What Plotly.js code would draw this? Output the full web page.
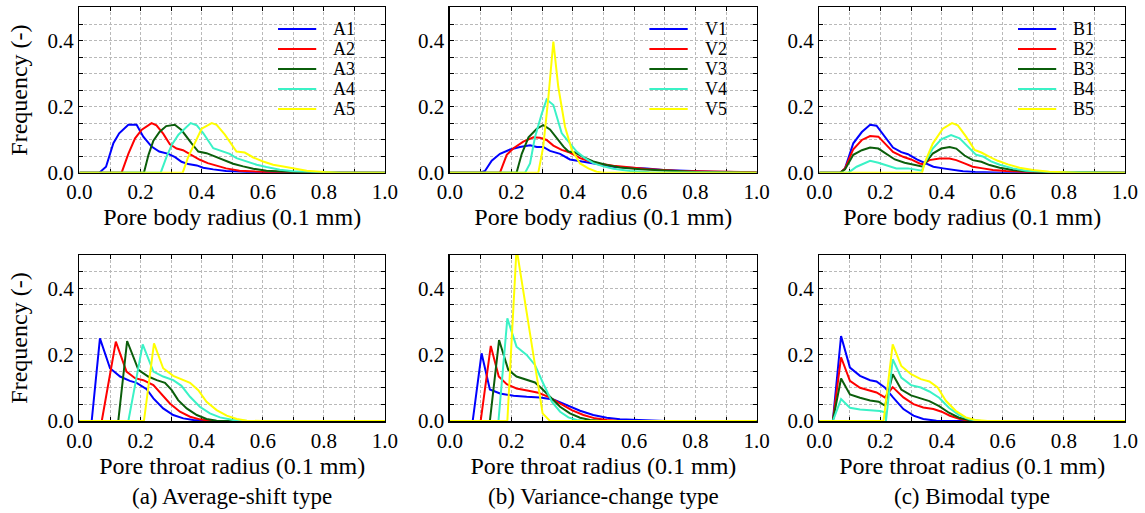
<!DOCTYPE html>
<html><head><meta charset="utf-8">
<script src="https://cdn.plot.ly/plotly-3.0.1.min.js"></script>
<style>html,body{margin:0;padding:0;background:#fff;}#chart{width:1145px;height:513px;}</style>
</head><body><div id="chart"></div>
<script>
// ---------- Pore body radius (top row) ----------
const A1_body_x = [0, 0.065, 0.087, 0.111, 0.130, 0.160, 0.187, 0.209, 0.236, 0.261, 0.291, 0.313, 0.334, 0.356, 0.384, 0.405, 0.438, 0.48, 0.55, 0.6, 1];
const A1_body_y = [0, 0, 0.018, 0.089, 0.119, 0.145, 0.145, 0.109, 0.079, 0.064, 0.057, 0.047, 0.033, 0.026, 0.022, 0.015, 0.010, 0.005, 0.002, 0, 0];
const A2_body_x = [0, 0.138, 0.160, 0.182, 0.204, 0.236, 0.252, 0.274, 0.296, 0.318, 0.339, 0.367, 0.394, 0.42, 0.449, 0.48, 0.524, 0.6, 0.65, 1];
const A2_body_y = [0, 0, 0.057, 0.104, 0.130, 0.150, 0.143, 0.118, 0.086, 0.073, 0.068, 0.052, 0.039, 0.029, 0.021, 0.013, 0.006, 0.002, 0, 0];
const A3_body_x = [0, 0.211, 0.226, 0.242, 0.262, 0.284, 0.312, 0.334, 0.367, 0.389, 0.416, 0.443, 0.470, 0.503, 0.536, 0.569, 0.612, 0.7, 0.75, 1];
const A3_body_y = [0, 0, 0.054, 0.097, 0.123, 0.141, 0.145, 0.129, 0.089, 0.064, 0.059, 0.049, 0.037, 0.027, 0.019, 0.012, 0.006, 0.002, 0, 0];
const A4_body_x = [0, 0.266, 0.285, 0.302, 0.324, 0.346, 0.364, 0.384, 0.405, 0.438, 0.465, 0.492, 0.514, 0.547, 0.58, 0.612, 0.656, 0.7, 0.8, 0.85, 1];
const A4_body_y = [0, 0, 0.048, 0.084, 0.115, 0.134, 0.150, 0.143, 0.120, 0.074, 0.066, 0.057, 0.044, 0.034, 0.024, 0.017, 0.009, 0.004, 0.001, 0, 0];
const A5_body_x = [0, 0.338, 0.356, 0.378, 0.40, 0.433, 0.449, 0.476, 0.503, 0.514, 0.541, 0.569, 0.601, 0.634, 0.667, 0.70, 0.744, 0.8, 0.85, 1];
const A5_body_y = [0, 0, 0.048, 0.093, 0.133, 0.150, 0.145, 0.115, 0.079, 0.064, 0.061, 0.046, 0.034, 0.024, 0.019, 0.014, 0.006, 0.002, 0, 0];

const V1_body_x = [0, 0.098, 0.114, 0.136, 0.163, 0.196, 0.228, 0.261, 0.283, 0.304, 0.326, 0.359, 0.391, 0.424, 0.457, 0.489, 0.533, 0.587, 0.641, 0.696, 0.75, 0.859, 1];
const V1_body_y = [0, 0, 0.005, 0.036, 0.057, 0.070, 0.078, 0.083, 0.078, 0.078, 0.066, 0.057, 0.040, 0.035, 0.028, 0.023, 0.018, 0.015, 0.013, 0.008, 0.006, 0.003, 0.001];
const V2_body_x = [0, 0.163, 0.185, 0.207, 0.239, 0.272, 0.293, 0.315, 0.337, 0.364, 0.391, 0.424, 0.457, 0.489, 0.533, 0.587, 0.641, 0.696, 0.75, 1];
const V2_body_y = [0, 0, 0.054, 0.074, 0.094, 0.107, 0.106, 0.099, 0.082, 0.069, 0.061, 0.044, 0.034, 0.027, 0.021, 0.015, 0.011, 0.008, 0.005, 0.001];
const V3_body_x = [0, 0.217, 0.234, 0.256, 0.283, 0.304, 0.326, 0.348, 0.37, 0.386, 0.408, 0.435, 0.467, 0.511, 0.554, 0.62, 0.696, 0.8, 1];
const V3_body_y = [0, 0, 0.057, 0.107, 0.133, 0.144, 0.131, 0.104, 0.079, 0.064, 0.061, 0.047, 0.034, 0.023, 0.016, 0.010, 0.006, 0.002, 0];
const V4_body_x = [0, 0.245, 0.261, 0.277, 0.299, 0.315, 0.337, 0.364, 0.391, 0.413, 0.44, 0.467, 0.5, 0.533, 0.587, 0.65, 1];
const V4_body_y = [0, 0, 0.028, 0.107, 0.178, 0.222, 0.205, 0.120, 0.089, 0.064, 0.044, 0.029, 0.019, 0.012, 0.005, 0.001, 0];
const V5_body_x = [0, 0.288, 0.304, 0.321, 0.337, 0.353, 0.375, 0.397, 0.424, 0.451, 0.478, 0.5, 1];
const V5_body_y = [0, 0, 0.079, 0.230, 0.397, 0.260, 0.139, 0.069, 0.028, 0.013, 0.003, 0, 0];

const B1_body_x = [0, 0.068, 0.084, 0.111, 0.139, 0.166, 0.187, 0.214, 0.241, 0.268, 0.29, 0.319, 0.346, 0.373, 0.405, 0.438, 0.47, 0.51, 0.6, 1];
const B1_body_y = [0, 0, 0.013, 0.089, 0.123, 0.145, 0.142, 0.109, 0.076, 0.062, 0.056, 0.040, 0.028, 0.018, 0.013, 0.008, 0.004, 0.002, 0, 0];
const B2_body_x = [0, 0.068, 0.084, 0.111, 0.139, 0.166, 0.193, 0.22, 0.241, 0.274, 0.30, 0.328, 0.339, 0.36, 0.393, 0.426, 0.448, 0.475, 0.502, 0.535, 0.568, 0.611, 0.7, 1];
const B2_body_y = [0, 0, 0.013, 0.071, 0.099, 0.111, 0.109, 0.083, 0.063, 0.048, 0.040, 0.028, 0.026, 0.038, 0.043, 0.043, 0.038, 0.028, 0.018, 0.013, 0.008, 0.005, 0.001, 0];
const B3_body_x = [0, 0.068, 0.084, 0.111, 0.139, 0.166, 0.193, 0.22, 0.247, 0.279, 0.306, 0.339, 0.35, 0.371, 0.399, 0.426, 0.448, 0.475, 0.502, 0.53, 0.557, 0.59, 0.633, 0.677, 0.75, 1];
const B3_body_y = [0, 0, 0.010, 0.054, 0.068, 0.076, 0.073, 0.057, 0.040, 0.030, 0.025, 0.018, 0.033, 0.058, 0.073, 0.078, 0.073, 0.052, 0.038, 0.033, 0.023, 0.015, 0.008, 0.004, 0.001, 0];
const B4_body_x = [0, 0.095, 0.122, 0.149, 0.166, 0.193, 0.226, 0.252, 0.29, 0.317, 0.336, 0.344, 0.371, 0.399, 0.431, 0.459, 0.486, 0.513, 0.535, 0.562, 0.59, 0.633, 0.677, 0.75, 1];
const B4_body_y = [0, 0, 0.018, 0.030, 0.036, 0.030, 0.020, 0.013, 0.013, 0.010, 0.006, 0.028, 0.073, 0.101, 0.114, 0.104, 0.079, 0.054, 0.049, 0.034, 0.024, 0.013, 0.006, 0.002, 0];
const B5_body_x = [0, 0.336, 0.344, 0.371, 0.404, 0.434, 0.453, 0.48, 0.508, 0.53, 0.557, 0.584, 0.617, 0.655, 0.699, 0.753, 0.85, 1];
const B5_body_y = [0, 0, 0.028, 0.088, 0.133, 0.150, 0.143, 0.109, 0.069, 0.061, 0.048, 0.036, 0.025, 0.015, 0.008, 0.003, 0, 0];

// ---------- Pore throat radius (bottom row) ----------
const A1_throat_x = [0, 0.040, 0.067, 0.10, 0.133, 0.165, 0.187, 0.22, 0.242, 0.274, 0.307, 0.34, 0.373, 0.45, 1];
const A1_throat_y = [0, 0, 0.249, 0.159, 0.134, 0.121, 0.115, 0.096, 0.068, 0.038, 0.018, 0.008, 0.003, 0, 0];
const A2_throat_x = [0, 0.073, 0.119, 0.154, 0.182, 0.209, 0.242, 0.264, 0.296, 0.329, 0.362, 0.394, 0.427, 0.5, 1];
const A2_throat_y = [0, 0, 0.239, 0.149, 0.129, 0.123, 0.108, 0.085, 0.053, 0.028, 0.013, 0.005, 0.001, 0, 0];
const A3_throat_x = [0, 0.127, 0.156, 0.193, 0.225, 0.253, 0.28, 0.302, 0.323, 0.351, 0.384, 0.416, 0.449, 0.5, 1];
const A3_throat_y = [0, 0, 0.241, 0.154, 0.134, 0.123, 0.115, 0.093, 0.063, 0.038, 0.018, 0.006, 0.001, 0, 0];
const A4_throat_x = [0, 0.160, 0.207, 0.242, 0.274, 0.307, 0.334, 0.362, 0.394, 0.427, 0.46, 0.503, 0.55, 1];
const A4_throat_y = [0, 0, 0.231, 0.149, 0.134, 0.123, 0.106, 0.073, 0.043, 0.023, 0.011, 0.003, 0, 0];
const A5_throat_x = [0, 0.211, 0.244, 0.274, 0.307, 0.334, 0.362, 0.389, 0.416, 0.449, 0.482, 0.515, 0.548, 0.6, 1];
const A5_throat_y = [0, 0, 0.234, 0.159, 0.136, 0.126, 0.115, 0.093, 0.058, 0.033, 0.016, 0.006, 0.001, 0, 0];

const V1_throat_x = [0, 0.074, 0.103, 0.13, 0.163, 0.207, 0.25, 0.293, 0.337, 0.38, 0.424, 0.467, 0.511, 0.554, 0.62, 0.7, 1];
const V1_throat_y = [0, 0, 0.204, 0.095, 0.083, 0.076, 0.073, 0.071, 0.065, 0.048, 0.031, 0.018, 0.010, 0.005, 0.002, 0, 0];
const V2_throat_x = [0, 0.1, 0.133, 0.159, 0.185, 0.217, 0.256, 0.288, 0.321, 0.359, 0.397, 0.435, 0.473, 0.511, 0.55, 1];
const V2_throat_y = [0, 0, 0.226, 0.134, 0.111, 0.098, 0.091, 0.085, 0.073, 0.053, 0.033, 0.018, 0.008, 0.003, 0, 0];
const V3_throat_x = [0, 0.13, 0.16, 0.19, 0.217, 0.25, 0.277, 0.299, 0.326, 0.359, 0.391, 0.424, 0.457, 0.5, 1];
const V3_throat_y = [0, 0, 0.244, 0.154, 0.134, 0.123, 0.116, 0.098, 0.073, 0.043, 0.023, 0.010, 0.003, 0, 0];
const V4_throat_x = [0, 0.158, 0.187, 0.217, 0.25, 0.277, 0.304, 0.332, 0.359, 0.386, 0.413, 0.44, 1];
const V4_throat_y = [0, 0, 0.309, 0.224, 0.199, 0.169, 0.113, 0.058, 0.028, 0.011, 0.003, 0, 0];
const V5_throat_x = [0, 0.187, 0.217, 0.25, 0.283, 0.302, 0.326, 1];
const V5_throat_y = [0, 0, 0.520, 0.326, 0.134, 0.023, 0, 0];

const B1_throat_x = [0, 0.044, 0.071, 0.10, 0.133, 0.166, 0.187, 0.214, 0.241, 0.275, 0.308, 0.34, 0.383, 0.45, 1];
const B1_throat_y = [0, 0, 0.256, 0.161, 0.136, 0.123, 0.119, 0.101, 0.071, 0.036, 0.016, 0.006, 0.001, 0, 0];
const B2_throat_x = [0, 0.044, 0.071, 0.10, 0.133, 0.166, 0.187, 0.214, 0.24, 0.275, 0.308, 0.34, 0.373, 0.40, 0.427, 0.46, 0.49, 0.55, 1];
const B2_throat_y = [0, 0, 0.192, 0.121, 0.100, 0.091, 0.086, 0.071, 0.102, 0.071, 0.051, 0.041, 0.036, 0.028, 0.016, 0.006, 0.001, 0, 0];
const B3_throat_x = [0, 0.044, 0.071, 0.10, 0.133, 0.166, 0.194, 0.215, 0.24, 0.268, 0.30, 0.326, 0.36, 0.392, 0.424, 0.457, 0.49, 0.52, 1];
const B3_throat_y = [0, 0, 0.128, 0.080, 0.070, 0.062, 0.058, 0.046, 0.141, 0.095, 0.077, 0.070, 0.060, 0.045, 0.025, 0.010, 0.003, 0, 0];
const B4_throat_x = [0, 0.044, 0.071, 0.10, 0.133, 0.177, 0.198, 0.215, 0.218, 0.24, 0.268, 0.30, 0.332, 0.36, 0.392, 0.424, 0.457, 0.49, 0.53, 1];
const B4_throat_y = [0, 0, 0.066, 0.040, 0.035, 0.033, 0.030, 0.026, 0, 0.186, 0.131, 0.108, 0.101, 0.089, 0.070, 0.040, 0.018, 0.005, 0, 0];
const B5_throat_x = [0, 0.21, 0.24, 0.268, 0.30, 0.332, 0.36, 0.387, 0.414, 0.446, 0.479, 0.51, 0.55, 1];
const B5_throat_y = [0, 0, 0.231, 0.166, 0.141, 0.126, 0.119, 0.101, 0.061, 0.031, 0.011, 0.003, 0, 0];

// ---------- labels ----------
const groupA_names = ['A1', 'A2', 'A3', 'A4', 'A5'];
const groupV_names = ['V1', 'V2', 'V3', 'V4', 'V5'];
const groupB_names = ['B1', 'B2', 'B3', 'B4', 'B5'];
const xTickValues = [0, 0.2, 0.4, 0.6, 0.8, 1.0];
const yTickValues = [0, 0.2, 0.4];
const bodyAxisTitle = 'Pore body radius (0.1 mm)';
const throatAxisTitle = 'Pore throat radius (0.1 mm)';
const freqAxisTitle = 'Frequency (-)';
const panelCaptions = ['(a) Average-shift type', '(b) Variance-change type', '(c) Bimodal type'];

// ---------- styling ----------
const seriesColors = ['#0000ff', '#ff0000', '#0b5e0b', '#3af2c6', '#ffff00'];
const FONT = '"Liberation Serif", "Times New Roman", serif';
const gridColor = '#b9b9b9';
const colDomains = [[0.0694, 0.3362], [0.3930, 0.6609], [0.7156, 0.9825]];
const rowDomains = [[0.6634, 0.9854], [0.1793, 0.5029]];

const panels = [
  {row: 0, col: 0, names: groupA_names, xs: [A1_body_x, A2_body_x, A3_body_x, A4_body_x, A5_body_x], ys: [A1_body_y, A2_body_y, A3_body_y, A4_body_y, A5_body_y], title: bodyAxisTitle},
  {row: 0, col: 1, names: groupV_names, xs: [V1_body_x, V2_body_x, V3_body_x, V4_body_x, V5_body_x], ys: [V1_body_y, V2_body_y, V3_body_y, V4_body_y, V5_body_y], title: bodyAxisTitle},
  {row: 0, col: 2, names: groupB_names, xs: [B1_body_x, B2_body_x, B3_body_x, B4_body_x, B5_body_x], ys: [B1_body_y, B2_body_y, B3_body_y, B4_body_y, B5_body_y], title: bodyAxisTitle},
  {row: 1, col: 0, names: groupA_names, xs: [A1_throat_x, A2_throat_x, A3_throat_x, A4_throat_x, A5_throat_x], ys: [A1_throat_y, A2_throat_y, A3_throat_y, A4_throat_y, A5_throat_y], title: throatAxisTitle},
  {row: 1, col: 1, names: groupV_names, xs: [V1_throat_x, V2_throat_x, V3_throat_x, V4_throat_x, V5_throat_x], ys: [V1_throat_y, V2_throat_y, V3_throat_y, V4_throat_y, V5_throat_y], title: throatAxisTitle},
  {row: 1, col: 2, names: groupB_names, xs: [B1_throat_x, B2_throat_x, B3_throat_x, B4_throat_x, B5_throat_x], ys: [B1_throat_y, B2_throat_y, B3_throat_y, B4_throat_y, B5_throat_y], title: throatAxisTitle}
];

const traces = [];
const layout = {
  width: 1145, height: 513,
  margin: {l: 0, r: 0, t: 0, b: 0},
  paper_bgcolor: '#ffffff', plot_bgcolor: '#ffffff',
  font: {family: FONT, color: '#000'},
  showlegend: false,
  shapes: [], annotations: []
};

const legendRowsPx = [29, 49, 69, 89, 109];

panels.forEach((p, i) => {
  const n = i + 1;
  const xa = n === 1 ? 'x' : 'x' + n;
  const ya = n === 1 ? 'y' : 'y' + n;
  p.names.forEach((name, k) => {
    traces.push({
      type: 'scatter', mode: 'lines', name: name,
      x: p.xs[k], y: p.ys[k], xaxis: xa, yaxis: ya,
      line: {color: seriesColors[k], width: 2},
      hoverinfo: 'x+y+name'
    });
  });
  const common = {
    showline: true, linecolor: '#000', linewidth: 1.5, mirror: 'ticks',
    ticks: 'inside', ticklen: 4, tickwidth: 1, tickcolor: '#000',
    showgrid: true, gridcolor: gridColor, gridwidth: 1, griddash: '3px,2px',
    zeroline: false, layer: 'below traces', automargin: false, fixedrange: true,
    tickfont: {family: FONT, size: 21, color: '#000'}
  };
  layout['xaxis' + (n === 1 ? '' : n)] = Object.assign({}, common, {
    domain: colDomains[p.col], anchor: ya, range: [0, 1],
    tickmode: 'array', tickvals: xTickValues, tickformat: '.1f',
    minor: {dtick: 0.1, tick0: 0, ticks: 'inside', ticklen: 4, tickcolor: '#000',
            showgrid: true, gridcolor: gridColor, gridwidth: 1, griddash: '3px,2px'},
    title: {text: p.title, font: {family: FONT, size: 24, color: '#000'}, standoff: 2}
  });
  layout['yaxis' + (n === 1 ? '' : n)] = Object.assign({}, common, {
    domain: rowDomains[p.row], anchor: xa, range: [0, 0.5],
    tickmode: 'array', tickvals: yTickValues, tickformat: '.1f',
    minor: {dtick: 0.05, tick0: 0, ticks: 'inside', ticklen: 4, tickcolor: '#000',
            showgrid: true, gridcolor: gridColor, gridwidth: 1, griddash: '3px,2px'},
    title: p.col === 0 ? {text: freqAxisTitle, font: {family: FONT, size: 24, color: '#000'}, standoff: 13} : {text: ''}
  });
  if (p.row === 0) {
    p.names.forEach((name, k) => {
      const yf = (172.7 - legendRowsPx[k]) / 165.2;
      layout.shapes.push({type: 'line', xref: xa + ' domain', yref: ya + ' domain',
        x0: 0.65, x1: 0.775, y0: yf, y1: yf, line: {color: seriesColors[k], width: 2}});
      layout.annotations.push({xref: xa + ' domain', yref: ya + ' domain', x: 0.825, y: yf,
        xanchor: 'left', yanchor: 'middle', text: name, showarrow: false,
        font: {family: FONT, size: 18, color: '#000'}});
    });
  }
});

panelCaptions.forEach((c, j) => {
  layout.annotations.push({xref: 'paper', yref: 'paper',
    x: (colDomains[j][0] + colDomains[j][1]) / 2, y: 1 - 496 / 513,
    xanchor: 'center', yanchor: 'middle', text: c, showarrow: false,
    font: {family: FONT, size: 23, color: '#000'}});
});

Plotly.newPlot('chart', traces, layout, {displayModeBar: false, staticPlot: true});
</script>
</body></html>
